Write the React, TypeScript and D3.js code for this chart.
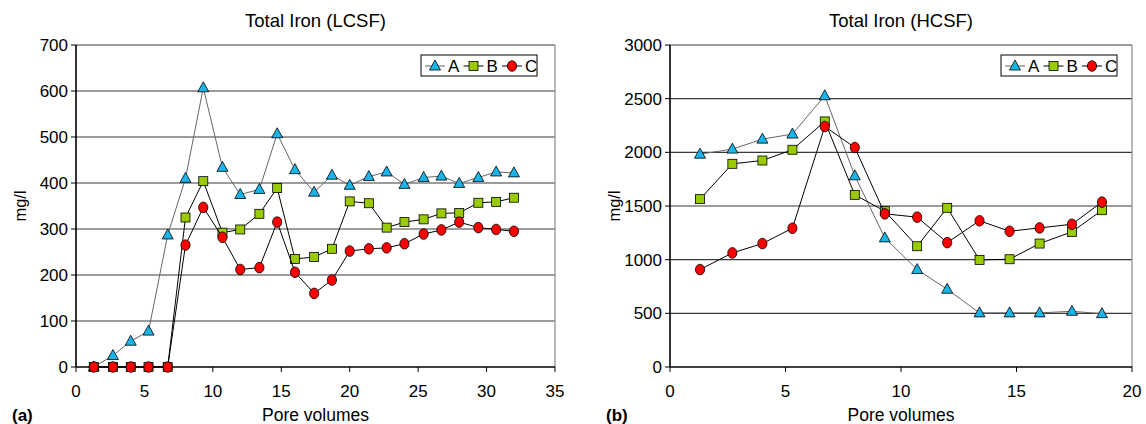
import React from 'react';
import { scaleLinear, line, range } from 'd3';

// pore volumes (x) and total iron, mg/l (y)
const poreVolumesLCSF = [1.3, 2.7, 4.0, 5.3, 6.7, 8.0, 9.3, 10.7, 12.0, 13.4, 14.7, 16.0, 17.4, 18.7, 20.0, 21.4, 22.7, 24.0, 25.4, 26.7, 28.0, 29.4, 30.7, 32.0];
const lcsfA = [0, 25, 56, 78, 287, 410, 607, 434, 375, 386, 507, 429, 380, 417, 395, 414, 424, 397, 412, 415, 399, 412, 424, 422];
const lcsfB = [0, 0, 0, 0, 0, 325, 404, 292, 299, 333, 389, 235, 239, 257, 360, 356, 303, 315, 321, 334, 335, 357, 359, 368];
const lcsfC = [0, 0, 0, 0, 0, 265, 347, 282, 212, 216, 315, 206, 160, 189, 252, 257, 259, 268, 289, 298, 315, 303, 299, 295];

const poreVolumesHCSF = [1.3, 2.7, 4.0, 5.3, 6.7, 8.0, 9.3, 10.7, 12.0, 13.4, 14.7, 16.0, 17.4, 18.7];
const hcsfA = [1983, 2030, 2123, 2170, 2527, 1781, 1203, 908, 724, 504, 504, 504, 519, 497];
const hcsfB = [1564, 1893, 1924, 2024, 2288, 1604, 1452, 1125, 1483, 998, 1004, 1150, 1259, 1461];
const hcsfC = [908, 1063, 1150, 1293, 2241, 2045, 1427, 1396, 1159, 1362, 1265, 1296, 1330, 1536];

const seriesNames = ['A', 'B', 'C'];

const FONT = '"Liberation Sans", Arial, sans-serif';

const styles: Record<string, { fill: string; stroke: string }> = {
	A: { fill: '#19b4e8', stroke: '#666' },
	B: { fill: '#99cc00', stroke: '#000' },
	C: { fill: '#ff0000', stroke: '#000' },
};

const Marker = ({ name, x, y }: { name: string; x: number; y: number }) => {
	const fill = styles[name].fill;
	if (name === 'A')
		return <path d={`M${x},${y - 6}L${x + 5.5},${y + 4}L${x - 5.5},${y + 4}Z`} fill={fill} stroke="#000" strokeWidth={0.8} />;
	if (name === 'B')
		return <rect x={x - 4.5} y={y - 4.5} width={9} height={9} fill={fill} stroke="#000" strokeWidth={0.8} />;
	return <ellipse cx={x} cy={y} rx={4.6} ry={5.3} fill={fill} stroke="#000" strokeWidth={0.8} />;
};

type PanelProps = {
	title: string;
	tag: string;
	left: number;
	right: number;
	xMax: number;
	yMax: number;
	yStep: number;
	xs: number[];
	ys: number[][];
	legendX: number;
};

const top = 45;
const bottom = 367;

const Panel = ({ title, tag, left, right, xMax, yMax, yStep, xs, ys, legendX }: PanelProps) => {
	const x = scaleLinear().domain([0, xMax]).range([left, right]);
	const y = scaleLinear().domain([0, yMax]).range([bottom, top]);
	const yTicks = range(0, yMax + 1, yStep);
	const xTicks = range(0, xMax + 1, 5);
	const path = line<number>()
		.x((d, i) => x(xs[i]))
		.y(d => y(d));

	return (
		<g fontFamily={FONT}>
			<text x={(left + right) / 2} y={27} textAnchor="middle" fontSize={18.5} fill="#000">{title}</text>

			{/* gridlines + frame */}
			{yTicks.slice(1).map(t => (
				<line key={t} x1={left} x2={right} y1={y(t)} y2={y(t)} stroke="#3a3a3a" strokeWidth={1.2} />
			))}
			<line x1={right} x2={right} y1={top} y2={bottom} stroke="#888" strokeWidth={1.2} />

			{/* y axis */}
			<line x1={left} x2={left} y1={top} y2={bottom} stroke="#000" strokeWidth={1.6} />
			{yTicks.map(t => (
				<g key={t}>
					<line x1={left - 5} x2={left} y1={y(t)} y2={y(t)} stroke="#000" />
					<text x={left - 8} y={y(t)} dy="0.35em" textAnchor="end" fontSize={17}>{t}</text>
				</g>
			))}
			<text transform={`translate(${left - 56},${(top + bottom) / 2}) rotate(-90)`} textAnchor="middle" fontSize={16.5} dy="0.35em">mg/l</text>

			{/* x axis */}
			<line x1={left} x2={right} y1={bottom} y2={bottom} stroke="#000" strokeWidth={1.6} />
			{xTicks.map(t => (
				<g key={t}>
					<line x1={x(t)} x2={x(t)} y1={bottom} y2={bottom + 5} stroke="#000" />
					<text x={x(t)} y={397} textAnchor="middle" fontSize={17}>{t}</text>
				</g>
			))}
			<text x={(left + right) / 2} y={421} textAnchor="middle" fontSize={17.5}>Pore volumes</text>
			<text x={left - 64} y={421} fontSize={17} fontWeight="bold">{tag}</text>

			{/* series */}
			{ys.map((vals, si) => {
				const name = seriesNames[si];
				return (
					<g key={name}>
						<path d={path(vals) ?? ''} fill="none" stroke={styles[name].stroke} strokeWidth={1} />
						{vals.map((v, i) => <Marker key={i} name={name} x={x(xs[i])} y={y(v)} />)}
					</g>
				);
			})}

			{/* legend */}
			<rect x={legendX} y={55} width={116} height={21} fill="#fff" stroke="#000" strokeWidth={1} />
			{seriesNames.map((name, i) => {
				const lx = legendX + 4 + i * 38.5;
				return (
					<g key={name}>
						<line x1={lx} x2={lx + 20} y1={66} y2={66} stroke={styles[name].stroke} />
						<Marker name={name} x={lx + 10} y={66} />
						<text x={lx + 23} y={66} dy="0.36em" fontSize={17}>{name}</text>
					</g>
				);
			})}
		</g>
	);
};

export default function App() {
	return (
		<svg width={1146} height={424} style={{ position: 'absolute', left: 0, top: 0, background: '#fff' }}>
			<rect width={1146} height={424} fill="#fff" />
			<Panel title="Total Iron (LCSF)" tag="(a)" left={76} right={555} xMax={35} yMax={700} yStep={100}
				xs={poreVolumesLCSF} ys={[lcsfA, lcsfB, lcsfC]} legendX={421} />
			<Panel title="Total Iron (HCSF)" tag="(b)" left={670} right={1132} xMax={20} yMax={3000} yStep={500}
				xs={poreVolumesHCSF} ys={[hcsfA, hcsfB, hcsfC]} legendX={1001} />
		</svg>
	);
}
